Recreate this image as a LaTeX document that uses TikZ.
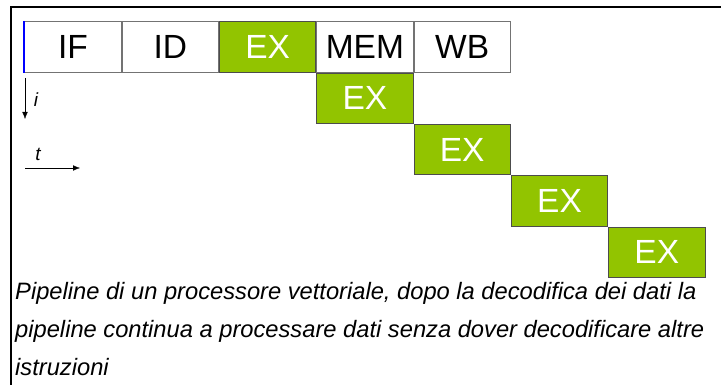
\documentclass[tikz,border=0pt]{standalone}
\usepackage{fontspec}
\setmainfont{Liberation Sans}
\usetikzlibrary{positioning,arrows.meta}
\definecolor{exgreen}{RGB}{146,196,0}

\begin{document}
\begin{tikzpicture}[>={Latex[length=7pt,width=5.5pt]}, x=1pt, y=-1pt,
  stage/.style={draw=black!55, line width=0.8pt, minimum width=96.5pt, minimum height=50.5pt, inner sep=0pt, font=\fontsize{33.5}{33.5}\selectfont},
  exstage/.style={stage, fill=exgreen, draw=black!70, text=white},
  caption/.style={anchor=base west, inner sep=0pt, font=\fontsize{23.7}{28}\selectfont\itshape}]
\useasboundingbox (0,0) rectangle (721,385);
% frame
\draw[line width=2pt] (10.5,385) -- (10.5,7.5) -- (721,7.5);
% pipeline
\node[stage] (if) at (73,47) {IF};
\node[stage, right=0pt of if] (id) {ID};
\node[exstage, right=0pt of id] (ex1) {EX};
\node[exstage, below right=0pt of ex1.south east, anchor=north west] (ex2) {EX};
\node[stage, right=0pt of ex1] (mem) {MEM};
\node[stage, right=0pt of mem] (wb) {WB};
\node[exstage, below right=0pt of ex2] (ex3) {EX};
\node[exstage, below right=0pt of ex3] (ex4) {EX};
\node[exstage, below right=0pt of ex4] (ex5) {EX};
\draw[blue, line width=2pt] (if.south west) -- (if.north west);
% axes
\coordinate (itop) at (25,78);
\coordinate (ibot) at (25,119);
\draw[->] (itop) -- (ibot);
\node[font=\fontsize{19}{19}\selectfont\itshape] (ilab) at (36,100) {i};
\coordinate (tleft) at (25,168);
\coordinate (tright) at (80,168);
\draw[->] (tleft) -- (tright);
\node[font=\fontsize{19}{19}\selectfont\itshape] (tlab) at (38,154) {t};
% caption
\node[caption] (cap1) at (15,299) {Pipeline di un processore vettoriale, dopo la decodifica dei dati la};
\node[caption] (cap2) at (15,337) {pipeline continua a processare dati senza dover decodificare altre};
\node[caption] (cap3) at (15,375) {istruzioni};
\end{tikzpicture}
\end{document}
